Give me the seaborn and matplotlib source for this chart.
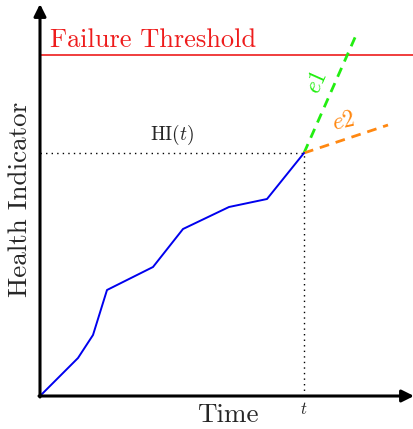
import matplotlib
matplotlib.use("Agg")
import matplotlib.pyplot as plt
import seaborn as sns

# health indicator history (time, value), in plot units
hi_time = [0, 38, 53, 67, 113, 143, 189, 227, 264]
hi_value = [0, 38, 61, 106, 129, 167, 189, 197, 243]

threshold = 341
t_now = 264
hi_now = 243

# extrapolations from current point
e1_time = [264, 317]
e1_value = [243, 363]
e2_time = [264, 348]
e2_value = [243, 271]

sns.set_style("white")
plt.rcParams['font.family'] = ['cmr10', 'DejaVu Serif']
plt.rcParams['mathtext.fontset'] = 'cm'
plt.rcParams['axes.formatter.use_mathtext'] = True

fig = plt.figure(figsize=(4.14, 4.29), dpi=100)
ax = fig.add_axes([0, 0, 1, 1])
ax.set_xlim(-40, 374)
ax.set_ylim(-33, 396)
ax.axis('off')

# guide lines
ax.plot([0, t_now], [hi_now, hi_now], color='black', ls=(0, (1, 3)), lw=1)
ax.plot([t_now, t_now], [0, hi_now], color='black', ls=(0, (1, 3)), lw=1)

# threshold
ax.plot([0, 374], [threshold, threshold], color='#ee1c1c', lw=1.2)
ax.text(10, 349, 'Failure Threshold', color='#ee1c1c', fontsize=19,
        ha='left', va='baseline')

# predictions
sns.lineplot(x=e1_time, y=e1_value, ax=ax, color='#22ee11', lw=2,
             linestyle=(0, (3.5, 2.5)))
sns.lineplot(x=e2_time, y=e2_value, ax=ax, color='#ff8811', lw=2,
             linestyle=(0, (3.5, 2.5)))

# health indicator
sns.lineplot(x=hi_time, y=hi_value, ax=ax, color='#0000ee', lw=1.4)

# axes arrows
arrow = dict(arrowstyle='-|>', lw=2.2, color='black', mutation_scale=18,
             shrinkA=0, shrinkB=0)
ax.annotate('', xy=(374, 0), xytext=(-1, 0), arrowprops=arrow)
ax.annotate('', xy=(0, 392), xytext=(0, -1), arrowprops=arrow)

# labels
ax.text(132, 261, r'HI$(t)$', fontsize=14, ha='center', va='center')
ax.text(188, -19, 'Time', fontsize=19.5, ha='center', va='center')
ax.text(t_now, -13, r'$t$', fontsize=12, ha='center', va='center')
ax.text(-20, 197, 'Health Indicator', fontsize=19.5, ha='center',
        va='center', rotation=90)
ax.text(277, 314, r'$e1$', color='#22ee11', fontsize=17, ha='center',
        va='center', rotation=66)
ax.text(304, 274, r'$e2$', color='#ff8811', fontsize=17, ha='center',
        va='center', rotation=12)

fig.savefig('out.png', dpi=100)
